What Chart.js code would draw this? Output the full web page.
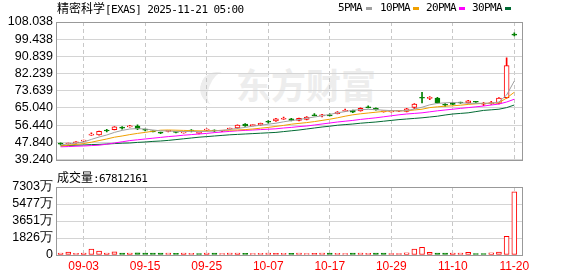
<!DOCTYPE html>
<html>
<head>
<meta charset="utf-8">
<script src="https://cdn.jsdelivr.net/npm/chart.js@4.4.1/dist/chart.umd.min.js"></script>
<style>
body{margin:0;background:#fff;width:578px;height:276px;overflow:hidden;position:relative}
canvas{position:absolute;left:0;z-index:1}
#kline{top:0}
#vol{top:170px}
.t{position:absolute;white-space:nowrap;color:#000;line-height:14px;z-index:2}
.cn{font-size:12px;font-family:"Noto Sans CJK SC",sans-serif}
.en{font-size:11px;font-family:"DejaVu Sans Mono",monospace;letter-spacing:-0.6px}
.sq{position:absolute;width:6px;height:3px;top:7px}
#wm{position:absolute;left:236px;top:66px;font:bold 35px/1 "Noto Sans CJK SC",sans-serif;color:#ededed;z-index:0}
#wmlogo{position:absolute;left:200px;top:72px;width:26px;height:34px;border-left:9px solid #ededed;border-radius:50%;transform:rotate(20deg);z-index:0}
</style>
</head>
<body>
<div id="wmlogo"></div>
<div id="wm">东方财富</div>
<div class="t" style="left:57px;top:1px"><span class="cn">精密科学</span><span class="en">[EXAS] 2025-11-21 05:00</span></div>
<div class="t en" style="left:338px;top:1px">5PMA</div><div class="sq" style="left:366px;background:#a0a0a0"></div>
<div class="t en" style="left:380px;top:1px">10PMA</div><div class="sq" style="left:413px;background:#f0a000"></div>
<div class="t en" style="left:426px;top:1px">20PMA</div><div class="sq" style="left:459px;background:#ff00ff"></div>
<div class="t en" style="left:472px;top:1px">30PMA</div><div class="sq" style="left:505px;background:#006a33"></div>
<div class="t" style="left:57px;top:170px"><span class="cn">成交量</span><span class="en">:67812161</span></div>
<canvas id="kline" width="578" height="170"></canvas>
<canvas id="vol" width="578" height="106"></canvas>
<script>
const dates = ['08-28','08-29','09-02','09-03','09-04','09-05','09-08','09-09','09-10','09-11',
  '09-12','09-15','09-16','09-17','09-18','09-19','09-22','09-23','09-24','09-25',
  '09-26','09-29','09-30','10-01','10-02','10-03','10-06','10-07','10-08','10-09',
  '10-10','10-13','10-14','10-15','10-16','10-17','10-20','10-21','10-22','10-23',
  '10-24','10-27','10-28','10-29','10-30','10-31','11-03','11-04','11-05','11-06',
  '11-07','11-10','11-11','11-12','11-13','11-14','11-17','11-18','11-19','11-20'];

const openP = [47.1,47.0,47.6,48.4,51.4,51.6,53.7,54.2,55.1,55.6,
  56.0,54.1,53.4,52.6,53.3,53.0,52.6,53.7,52.3,53.9,
  53.7,53.4,54.5,55.0,56.9,56.2,56.5,58.1,58.5,59.4,
  59.6,58.8,59.3,61.3,61.1,61.3,62.2,63.4,63.8,63.6,
  65.3,64.9,63.1,63.1,63.4,63.3,65.3,70.2,69.8,70.0,
  66.6,67.6,67.7,67.6,68.1,66.9,67.2,67.3,70.2,102.0];
const highP = [47.6,47.5,48.2,49.0,52.6,53.5,54.3,55.7,55.7,56.3,
  56.6,54.5,53.6,52.9,53.8,53.2,53.1,54.2,52.8,54.6,
  54.1,53.8,55.0,56.6,57.2,56.7,57.5,58.7,59.8,60.5,
  59.8,60.0,60.7,62.2,61.8,62.1,63.2,64.5,64.0,65.1,
  66.1,65.1,63.5,63.6,63.8,64.8,67.2,72.9,70.7,70.3,
  67.2,67.9,68.0,68.9,68.4,67.8,68.3,70.2,90.1,102.6];
const lowP = [46.5,46.9,47.3,48.2,51.3,51.4,53.0,54.0,54.4,55.4,
  54.2,53.6,53.0,52.2,53.1,52.5,52.4,53.1,52.1,53.5,
  53.1,53.2,54.3,54.8,55.8,56.0,56.3,57.4,58.3,59.3,
  58.6,58.6,59.1,61.1,60.6,61.1,62.0,63.3,62.7,63.4,
  65.1,63.9,62.9,62.9,63.2,63.0,64.7,67.6,69.2,67.4,
  65.8,66.6,67.3,67.4,67.8,66.2,66.8,67.0,69.8,101.1];
const closeP = [46.9,47.3,47.8,49.0,51.6,53.3,53.5,55.6,54.9,56.1,
  54.5,53.9,53.1,52.4,53.7,52.8,52.9,53.5,52.6,54.0,
  53.5,53.7,54.9,56.4,56.0,56.5,57.3,57.9,59.6,59.6,
  58.8,59.8,60.5,61.1,61.3,61.1,63.0,63.6,62.9,64.9,
  65.1,64.1,63.4,63.4,63.7,64.6,67.0,69.9,70.1,67.6,
  66.4,66.8,67.5,68.6,67.9,67.0,67.3,70.0,86.2,101.4];
const prevClose0 = 46.6;

const ma5 = [46.6,47.0,47.4,48.0,49.3,50.5,51.5,52.8,53.8,54.5,
  54.7,54.5,54.0,53.6,53.5,53.3,53.2,53.3,53.2,53.3,
  53.5,53.8,54.3,54.8,55.3,55.9,56.4,56.9,57.4,58.1,
  58.7,59.2,59.9,60.5,61.1,61.8,62.6,63.2,63.9,64.2,
  64.3,64.2,63.9,63.7,63.6,63.7,64.5,65.4,66.6,67.3,
  67.6,67.8,67.6,67.4,67.3,67.4,67.4,68.0,71.5,78.5];
const ma10 = [46.0,46.4,46.8,47.2,47.9,48.7,49.5,50.4,51.0,51.7,
  52.3,52.8,53.4,53.9,54.0,53.9,53.8,53.7,53.6,53.6,
  53.7,53.8,53.9,54.0,54.2,54.5,54.9,55.3,55.8,56.3,
  56.9,57.3,57.7,58.2,58.8,59.4,60.1,60.9,61.6,62.1,
  62.5,62.9,63.3,63.6,63.6,63.6,64.0,64.4,65.2,65.6,
  65.9,66.1,66.4,66.8,67.1,67.3,67.4,67.6,70.0,72.9];
const ma20 = [45.6,45.7,45.9,46.0,46.2,46.4,46.9,47.5,48.1,48.7,
  49.1,49.5,49.9,50.3,50.7,51.0,51.4,51.7,52.0,52.3,
  52.7,53.0,53.3,53.6,53.8,54.0,54.2,54.4,54.6,55.0,
  55.3,55.7,56.0,56.5,57.0,57.5,58.0,58.4,58.8,59.3,
  59.7,60.1,60.6,61.1,61.6,62.0,62.3,62.6,63.1,63.6,
  64.0,64.4,64.8,65.2,65.6,66.0,66.5,67.0,68.0,69.4];
const ma30 = [46.1,46.2,46.4,46.5,46.7,46.8,47.0,47.2,47.4,47.5,
  47.8,48.0,48.3,48.5,48.8,49.2,49.6,50.0,50.4,50.7,
  51.0,51.3,51.6,51.8,52.0,52.2,52.4,52.6,52.8,53.2,
  53.6,54.0,54.5,55.0,55.5,55.9,56.4,56.7,57.0,57.4,
  57.7,58.0,58.4,58.8,59.2,59.5,59.8,60.1,60.5,60.9,
  61.5,62.0,62.3,62.6,63.2,63.8,64.1,64.4,65.2,66.5];

// 成交量, 万股
const volume = [215,320,180,215,640,430,215,330,200,210,
  220,200,200,210,200,190,210,190,150,210,
  200,140,200,210,180,150,190,200,170,180,
  170,200,150,170,200,200,190,150,200,200,
  180,210,210,160,160,230,640,830,300,210,
  210,210,200,280,160,160,230,320,2000,6781.2161];

const priceTicks = ['39.240','47.840','56.440','65.040','73.639','82.239','90.839','99.438','108.038'];
const volTicks = ['0','1826万','3651万','5477万','7303万'];
const xTickIdx = [3,11,19,27,35,43,51,59];

const RED = '#ff0000', GREEN = '#008000';
const priceMin = 39.24, priceMax = 108.038, volMax = 7303;
const xMin = -0.6, xMax = 60;

const up = closeP.map((c,i)=> c >= openP[i]);
const volUp = closeP.map((c,i)=> c >= (i === 0 ? prevClose0 : closeP[i-1]));

const frame = {
  id: 'frame',
  afterDraw(c) {
    const a = c.chartArea, ctx = c.ctx;
    ctx.save();
    ctx.strokeStyle = '#999';
    ctx.lineWidth = 1;
    ctx.strokeRect(Math.round(a.left)+0.5, Math.round(a.top)+0.5, Math.round(a.right-a.left), Math.round(a.bottom-a.top));
    ctx.restore();
  }
};

const xScale = (showTicks) => ({
  type: 'linear', min: xMin, max: xMax, offset: false,
  afterBuildTicks: (s) => { s.ticks = xTickIdx.map(v => ({value: v})); },
  afterFit: (s) => { s.height = showTicks ? 21 : 0; },
  grid: {color: '#c8c8c8', drawTicks: false, offset: false},
  border: {display: false, dash: [4,3]},
  ticks: {
    display: showTicks, autoSkip: false, maxRotation: 0, padding: 4,
    color: RED, font: {family: 'Liberation Sans', size: 12},
    callback: (v) => dates[v]
  }
});

const yFont = {family: 'Liberation Sans', size: 12.5};

const line = (data, color) => ({
  type: 'line', data: data.map((v,i)=>({x:i, y:v})),
  borderColor: color, borderWidth: 1, pointRadius: 0, tension: 0, order: 0
});

new Chart(document.getElementById('kline'), {
  type: 'bar',
  data: {
    datasets: [
      line(ma5, '#a0a0a0'),
      line(ma10, '#f0a000'),
      line(ma20, '#ff00ff'),
      line(ma30, '#006a33'),
      {
        data: openP.map((o,i)=>({x:i, y:[o, closeP[i]]})),
        backgroundColor: up.map(u => u ? '#ffffff' : GREEN),
        borderColor: up.map(u => u ? RED : GREEN),
        borderWidth: 1, borderSkipped: false, barThickness: 5, minBarLength: 1, order: 1
      },
      {
        data: lowP.map((l,i)=>({x:i, y:[l, highP[i]]})),
        backgroundColor: up.map(u => u ? RED : GREEN),
        borderWidth: 0, barThickness: 1, order: 2
      }
    ]
  },
  options: {
    responsive: false, animation: false, grouped: false,
    layout: {padding: {left: 0, right: 56, top: 22, bottom: 5}},
    plugins: {legend: {display: false}, tooltip: {enabled: false}},
    scales: {
      x: xScale(false),
      y: {
        min: priceMin, max: priceMax,
        afterBuildTicks: (s) => { s.ticks = priceTicks.map((t,k)=>({value: priceMin + k*(priceMax-priceMin)/8})); },
        afterFit: (s) => { s.width = 56; },
        grid: {color: '#d4d4d4', drawTicks: false},
        border: {display: false},
        ticks: {autoSkip: false, padding: 3, color: '#000', font: yFont, callback: (v, k) => priceTicks[k]}
      }
    }
  },
  plugins: [frame]
});

new Chart(document.getElementById('vol'), {
  type: 'bar',
  data: {
    datasets: [{
      data: volume.map((v,i)=>({x:i, y:v})),
      backgroundColor: volUp.map(u => u ? '#ffffff' : GREEN),
      borderColor: volUp.map(u => u ? RED : GREEN),
      borderWidth: 1, borderSkipped: false, barThickness: 5, minBarLength: 1
    }]
  },
  options: {
    responsive: false, animation: false,
    layout: {padding: {left: 0, right: 56, top: 17, bottom: 0}},
    plugins: {legend: {display: false}, tooltip: {enabled: false}},
    scales: {
      x: xScale(true),
      y: {
        min: 0, max: volMax,
        afterBuildTicks: (s) => { s.ticks = volTicks.map((t,k)=>({value: k*volMax/4})); },
        afterFit: (s) => { s.width = 56; },
        grid: {color: '#d4d4d4', drawTicks: false},
        border: {display: false},
        ticks: {autoSkip: false, padding: 3, color: '#000', font: yFont, callback: (v, k) => volTicks[k]}
      }
    }
  },
  plugins: [frame]
});
</script>
</body>
</html>
